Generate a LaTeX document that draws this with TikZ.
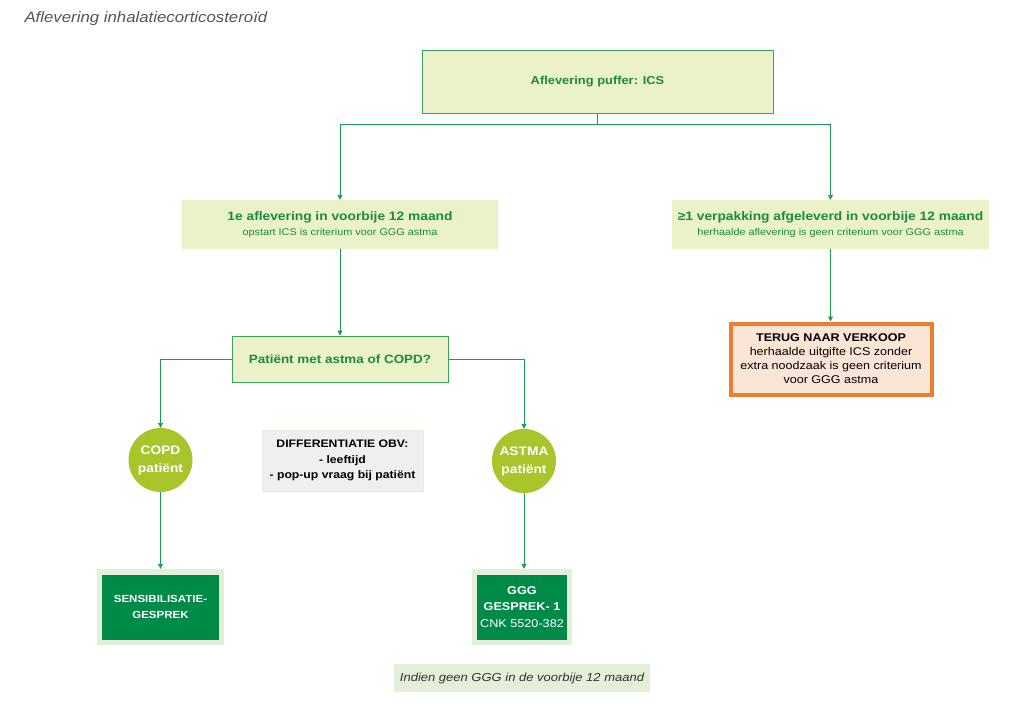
\documentclass[tikz,border=0pt]{standalone}
\usepackage{fontspec}
\setmainfont{Liberation Sans}[FakeStretch=1.12]
\usetikzlibrary{arrows.meta}
\definecolor{lgreen}{HTML}{EBF1C8}
\definecolor{bgreen}{HTML}{3AA35E}
\definecolor{tgreen}{HTML}{1B8A42}
\definecolor{lnk}{HTML}{1F9A55}
\definecolor{lime}{HTML}{A9C52C}
\definecolor{dgreen}{HTML}{008A47}
\definecolor{frame}{HTML}{E3EFD9}
\definecolor{orng}{HTML}{ED7D31}
\definecolor{peach}{HTML}{FBE5D6}
\definecolor{greybg}{HTML}{EFEFEF}
\definecolor{titlegrey}{HTML}{555555}
\tikzset{
  conn/.style={draw=lnk, line width=0.9pt},
  arr/.style={conn, -{Triangle[width=5pt,length=5pt]}},
  lbox/.style={rectangle, fill=lgreen, inner sep=0pt, align=center, text=tgreen},
  bbox/.style={lbox, draw=bgreen, line width=1pt},
  circ/.style={circle, fill=lime, minimum size=64pt, inner sep=0pt, align=center, text=white, font=\bfseries\fontsize{12.3}{18}\selectfont},
  outer/.style={rectangle, fill=frame, inner sep=0pt},
  inner/.style={rectangle, fill=dgreen, inner sep=0pt, align=center, text=white},
}
\begin{document}
\begin{tikzpicture}[x={(1pt,0)}, y={(0,-1pt)}]
\path[use as bounding box, fill=white] (0,0) rectangle (1023,725);

\node[anchor=west, text=titlegrey, font=\itshape\fontsize{15}{17}\selectfont] (title) at (21,19) {Aflevering inhalatiecorticosteroïd};

\node[bbox, minimum width=351pt, minimum height=62pt, font=\bfseries\fontsize{11.5}{13}\selectfont] (top) at (597.5,82) {Aflevering puffer: ICS};

\node[lbox, minimum width=316pt, minimum height=49pt, font=\fontsize{9.7}{12}\selectfont] (left) at (340,224.5)
  {{\bfseries\fontsize{12.3}{15}\selectfont 1e aflevering in voorbije 12 maand}\\[3pt]opstart ICS is criterium voor GGG astma};
\node[lbox, minimum width=317pt, minimum height=49pt, font=\fontsize{9.7}{12}\selectfont] (right) at (830.5,224.5)
  {{\bfseries\fontsize{12.3}{15}\selectfont ≥1 verpakking afgeleverd in voorbije 12 maand}\\[3pt]herhaalde aflevering is geen criterium voor GGG astma};

\node[bbox, minimum width=216pt, minimum height=46pt, font=\bfseries\fontsize{12}{14}\selectfont] (pat) at (340,359) {Patiënt met astma of COPD?};

\node[rectangle, draw=orng, line width=4pt, fill=peach, minimum width=201pt, minimum height=71pt, inner sep=0pt, align=center, font=\fontsize{11.2}{14}\selectfont] (terug) at (831,359)
  {{\bfseries TERUG NAAR VERKOOP}\\herhaalde uitgifte ICS zonder\\extra noodzaak is geen criterium\\voor GGG astma};

\node[circ] (copd) at (160.5,460) {COPD\\patiënt};
\node[circ] (astma) at (524,461) {ASTMA\\patiënt};

\node[rectangle, fill=greybg, draw=frame, line width=0.8pt, minimum width=161pt, minimum height=61pt, inner sep=0pt, align=center, font=\bfseries\fontsize{10.9}{15.5}\selectfont] (diff) at (342.5,460.5)
  {DIFFERENTIATIE OBV:\\- leeftijd\\- pop-up vraag bij patiënt};

\node[outer, minimum width=127pt, minimum height=76pt] (sensout) at (160.5,607) {};
\node[inner, minimum width=117pt, minimum height=65pt, font=\bfseries\fontsize{10.3}{16}\selectfont] (sens) at (160.5,607) {SENSIBILISATIE-\\GESPREK};

\node[outer, minimum width=100pt, minimum height=76pt] (gggout) at (522,607) {};
\node[inner, minimum width=90pt, minimum height=65pt, font=\fontsize{11.3}{16.5}\selectfont] (ggg) at (522,607)
  {\textbf{GGG}\\\textbf{GESPREK- 1}\\CNK 5520-382};

\node[rectangle, fill=frame, minimum width=256pt, minimum height=28pt, inner sep=0pt, text=black!80, font=\itshape\fontsize{11.6}{13}\selectfont] (indien) at (522,678) {Indien geen GGG in de voorbije 12 maand};

% connectors
\coordinate (j) at (597.5,124);
\draw[conn] (top.south) -- (j);
\draw[arr] (j) -| (left.north);
\draw[arr] (j) -| (right.north);
\draw[arr] (left.south) -- (pat.north);
\draw[arr] (right.south) -- (right.south |- terug.north);
\draw[arr] (pat.west) -| (copd.north);
\draw[arr] (pat.east) -| (astma.north);
\draw[arr] (copd.south) -- (sensout.north);
\draw[arr] (astma.south) -- (astma.south |- gggout.north);
\end{tikzpicture}
\end{document}
